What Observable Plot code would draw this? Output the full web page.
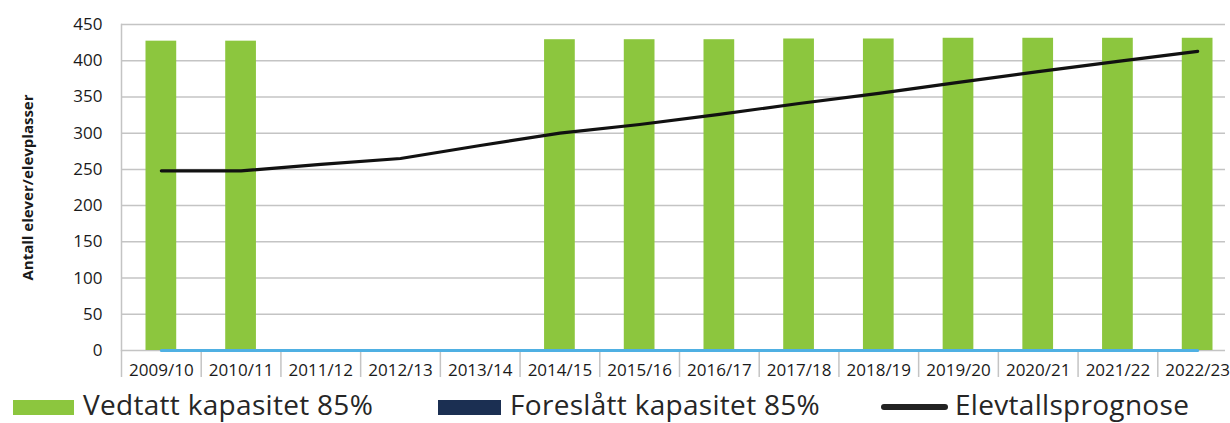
<!DOCTYPE html>
<html>
<head>
<meta charset="utf-8">
<script src="https://cdn.jsdelivr.net/npm/d3@7"></script>
<script src="https://cdn.jsdelivr.net/npm/@observablehq/plot@0.6"></script>
<style>
  html, body { margin: 0; padding: 0; background: #fff; }
  #wrap { position: relative; width: 1230px; height: 423px; overflow: hidden; font-family: "Open Sans", sans-serif; }
  .sw { position: absolute; }
  .lt { position: absolute; top: 390px; height: 28px; line-height: 28px; font-size: 28px; letter-spacing: 0.3px; color: #262626; white-space: nowrap; }
</style>
</head>
<body>
<div id="wrap"></div>
<script>
const categories = ["2009/10","2010/11","2011/12","2012/13","2013/14","2014/15","2015/16","2016/17","2017/18","2018/19","2019/20","2020/21","2021/22","2022/23"];
const vedtatt = [427, 427, 0, 0, 0, 429, 429, 429, 430, 430, 431, 431, 431, 431];
const foreslatt = [0, 0, 0, 0, 0, 0, 0, 0, 0, 0, 0, 0, 0, 0];
const elevtall = [248, 248, 257, 265, 283, 300, 312, 326, 341, 355, 370, 385, 399, 413];
const nullSerie = [0, 0, 0, 0, 0, 0, 0, 0, 0, 0, 0, 0, 0, 0];
const yTicks = [0, 50, 100, 150, 200, 250, 300, 350, 400, 450];
const yLabel = "Antall elever/elevplasser";
const legendLabels = ["Vedtatt kapasitet 85%", "Foreslått kapasitet 85%", "Elevtallsprognose"];

const green = "#8cc63e", navy = "#1b2f52", blue = "#4fb0e3";

const bars = categories.map((c, i) => ({cat: c, v: vedtatt[i]}));
const bars2 = categories.map((c, i) => ({cat: c, v: foreslatt[i]}));
const line = categories.map((c, i) => ({cat: c, v: elevtall[i]}));
const zero = categories.map((c, i) => ({cat: c, v: nullSerie[i]}));

const xRange = [121, 1237];
const step = (xRange[1] - xRange[0]) / categories.length;

const chart = Plot.plot({
  width: 1230,
  height: 385,
  marginTop: 24,
  marginBottom: 35,
  marginLeft: 121,
  marginRight: 5,
  style: {fontFamily: "Open Sans, sans-serif", fontSize: "17px", color: "#1a1a1a", overflow: "visible", background: "transparent"},
  x: {type: "band", domain: categories, range: xRange, padding: 0, round: false},
  y: {domain: [0, 450], ticks: yTicks},
  marks: [
    Plot.gridY(yTicks, {stroke: "#c4c4c4", strokeOpacity: 1, strokeWidth: 1.5}),
    Plot.frame({anchor: "left", stroke: "#c4c4c4", strokeWidth: 1.5}),
    Plot.axisX({tickSize: 27, tickPadding: 0, tickFormat: () => "", dx: -step / 2, stroke: "#c4c4c4", strokeWidth: 1.5, label: null}),
    Plot.axisX({tickSize: 0, tickPadding: 13, fontSize: 17, label: null}),
    Plot.axisY(yTicks, {tickSize: 0, tickPadding: 19, fontSize: 17, label: null}),
    Plot.text([yLabel], {frameAnchor: "left", textAnchor: "middle", rotate: -90, dx: -93, fontWeight: "bold", fontSize: 15, fill: "#1a1a1a"}),
    Plot.barY(bars, {x: "cat", y: "v", fill: green, insetLeft: 24.5, insetRight: 24.5}),
    Plot.barY(bars2, {x: "cat", y: "v", fill: navy, insetLeft: 24.5, insetRight: 24.5}),
    Plot.line(zero, {x: "cat", y: "v", stroke: blue, strokeWidth: 3}),
    Plot.line(line, {x: "cat", y: "v", stroke: "#111", strokeWidth: 3.2, strokeLinecap: "round"})
  ]
});

const wrap = document.getElementById("wrap");
wrap.appendChild(chart);

const legend = [
  {kind: "rect", color: green, sx: 13, sw: 61, tx: 83, label: legendLabels[0]},
  {kind: "rect", color: navy, sx: 438, sw: 63, tx: 510, label: legendLabels[1]},
  {kind: "line", color: "#222", sx: 881, sw: 67, tx: 955, label: legendLabels[2]}
];
for (const it of legend) {
  const s = document.createElement("div");
  s.className = "sw";
  s.style.left = it.sx + "px";
  s.style.width = it.sw + "px";
  s.style.background = it.color;
  if (it.kind === "rect") { s.style.top = "400px"; s.style.height = "15px"; }
  else { s.style.top = "404px"; s.style.height = "6px"; s.style.borderRadius = "3px"; }
  wrap.appendChild(s);
  const t = document.createElement("div");
  t.className = "lt";
  t.style.left = it.tx + "px";
  t.textContent = it.label;
  wrap.appendChild(t);
}
</script>
</body>
</html>
